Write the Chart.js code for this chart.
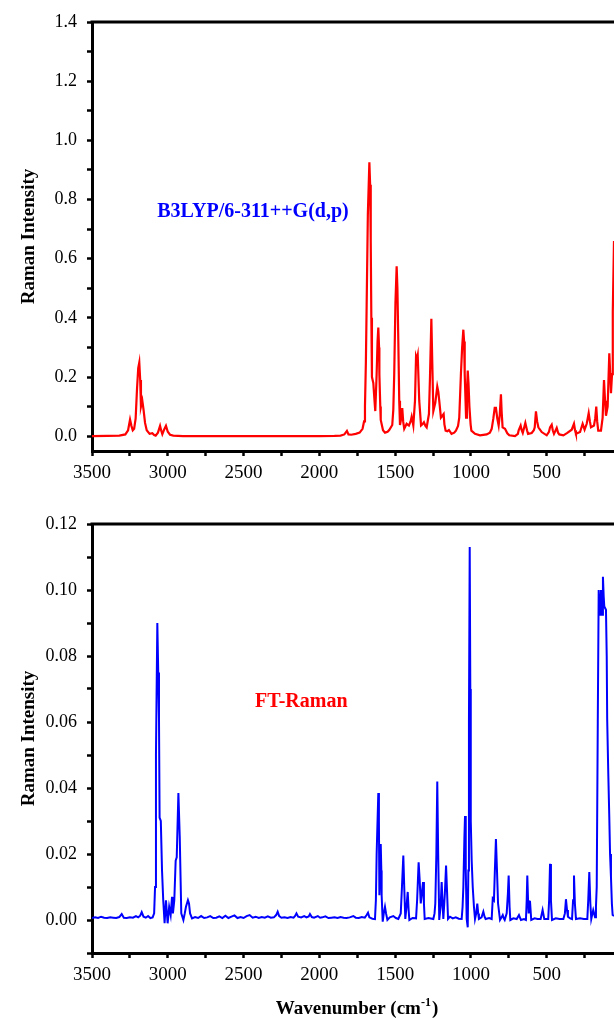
<!DOCTYPE html>
<html>
<head>
<meta charset="utf-8">
<script src="https://cdn.jsdelivr.net/npm/chart.js@4.4.1/dist/chart.umd.min.js"></script>
<style>
  body { margin: 0; background: #fff; }
  canvas { display: block; }
</style>
</head>
<body>
<canvas id="calcChart" width="614" height="500"></canvas>
<canvas id="expChart" width="614" height="518"></canvas>
<script>
// dados dos espectros

// grafico 1 - calculado B3LYP
const calcWn = [3500, 3400, 3320, 3280, 3262, 3249, 3240, 3231, 3222, 3212, 3203, 3195, 3188, 3182, 3177, 3168, 3160, 3150, 3139, 3120,
  3102, 3090, 3080, 3065, 3051, 3044, 3036, 3026, 3012, 3000, 2985, 2964, 2900, 2500, 2000, 1900, 1860, 1835, 1818, 1808,
  1790, 1760, 1734, 1715, 1705, 1699, 1693, 1688, 1680, 1670, 1665, 1661, 1657, 1653, 1644, 1636, 1631, 1622, 1616, 1611,
  1606, 1604, 1598, 1595, 1580, 1567, 1550, 1539, 1519, 1512, 1506, 1498, 1490, 1485, 1479, 1473, 1468, 1460, 1453, 1447,
  1440, 1424, 1409, 1398, 1391, 1385, 1380, 1369, 1362, 1356, 1351, 1341, 1329, 1320, 1310, 1300, 1292, 1277, 1270, 1261,
  1255, 1248, 1235, 1222, 1215, 1209, 1198, 1180, 1175, 1167, 1155, 1145, 1128, 1110, 1099, 1085, 1077, 1066, 1058, 1050,
  1045, 1041, 1032, 1026, 1021, 1016, 1010, 1002, 997, 973, 940, 896, 875, 863, 852, 843, 835, 826, 817, 810,
  802, 797, 791, 775, 760, 747, 709, 690, 685, 672, 665, 658, 641, 630, 623, 599, 585, 579, 571, 563,
  555, 533, 500, 485, 478, 467, 460, 452, 434, 425, 417, 390, 364, 335, 320, 313, 307, 280, 263, 250,
  236, 223, 215, 208, 188, 180, 173, 167, 160, 142, 131, 122, 115, 109, 98, 87, 80, 76, 69, 64, 56];
const calcInt = [0, 0.001, 0.002, 0.006, 0.02, 0.056, 0.035, 0.02, 0.025, 0.06, 0.16, 0.23, 0.249, 0.19, 0.10, 0.12, 0.09, 0.045, 0.02, 0.008,
  0.01, 0.004, 0.002, 0.012, 0.035, 0.02, 0.007, 0.02, 0.035, 0.015, 0.005, 0.002, 0.0005, 0, 0, 0.001, 0.002, 0.006, 0.018, 0.006,
  0.005, 0.008, 0.012, 0.025, 0.05, 0.10, 0.25, 0.44, 0.75, 0.926, 0.85, 0.66, 0.40, 0.20, 0.18, 0.12, 0.085, 0.21, 0.32, 0.367,
  0.30, 0.21, 0.10, 0.055, 0.02, 0.012, 0.015, 0.021, 0.038, 0.09, 0.21, 0.45, 0.574, 0.50, 0.32, 0.12, 0.038, 0.06, 0.095, 0.05,
  0.025, 0.042, 0.036, 0.05, 0.066, 0.05, 0.036, 0.12, 0.27, 0.26, 0.273, 0.12, 0.036, 0.04, 0.047, 0.035, 0.03, 0.075, 0.2, 0.397,
  0.25, 0.085, 0.113, 0.168, 0.15, 0.12, 0.063, 0.075, 0.04, 0.019, 0.017, 0.021, 0.008, 0.012, 0.019, 0.035, 0.063, 0.21, 0.30, 0.36,
  0.32, 0.21, 0.063, 0.15, 0.222, 0.18, 0.10, 0.04, 0.019, 0.008, 0.003, 0.006, 0.012, 0.025, 0.06, 0.096, 0.096, 0.06, 0.036, 0.07,
  0.142, 0.08, 0.03, 0.025, 0.01, 0.003, 0, 0.008, 0.02, 0.036, 0.02, 0.011, 0.045, 0.02, 0.008, 0.011, 0.02, 0.03, 0.084, 0.05,
  0.03, 0.014, 0.003, 0.015, 0.03, 0.039, 0.02, 0.008, 0.028, 0.012, 0.006, 0.003, 0.011, 0.022, 0.042, 0.02, 0.008, 0.014, 0.042, 0.022,
  0.042, 0.078, 0.05, 0.03, 0.036, 0.06, 0.10, 0.05, 0.019, 0.019, 0.063, 0.19, 0.12, 0.069, 0.10, 0.28, 0.2, 0.145, 0.21, 0.42, 0.66];

// grafico 2 - FT-Raman experimental
const expWn = [3500, 3480, 3460, 3440, 3420, 3400, 3380, 3360, 3340, 3320, 3304, 3290, 3270, 3250, 3230, 3210, 3195, 3182, 3172, 3160,
  3145, 3130, 3115, 3100, 3090, 3084, 3078, 3069, 3063, 3058, 3054, 3046, 3038, 3030, 3021, 3012, 3001, 2991, 2981, 2972,
  2966, 2957, 2948, 2941, 2930, 2921, 2911, 2897, 2888, 2880, 2867, 2860, 2853, 2840, 2820, 2800, 2780, 2760, 2740, 2720,
  2700, 2680, 2660, 2640, 2620, 2600, 2580, 2560, 2540, 2520, 2500, 2480, 2460, 2440, 2420, 2400, 2380, 2360, 2340, 2320,
  2300, 2285, 2275, 2265, 2250, 2230, 2210, 2190, 2170, 2160, 2151, 2140, 2120, 2100, 2085, 2070, 2062, 2050, 2035, 2010,
  1995, 1980, 1960, 1940, 1920, 1900, 1880, 1860, 1840, 1820, 1800, 1776, 1760, 1740, 1720, 1700, 1688, 1679, 1670, 1650,
  1633, 1627, 1622, 1611, 1607, 1604, 1599, 1595, 1591, 1589, 1582, 1575, 1567, 1560, 1551, 1535, 1512, 1495, 1479, 1463,
  1455, 1446, 1440, 1433, 1425, 1417, 1411, 1406, 1385, 1362, 1355, 1345, 1338, 1331, 1324, 1316, 1310, 1305, 1280, 1248,
  1240, 1235, 1228, 1222, 1216, 1209, 1200, 1193, 1187, 1182, 1172, 1164, 1157, 1151, 1138, 1120, 1100, 1080, 1061, 1055,
  1050, 1043, 1039, 1034, 1028, 1021, 1017, 1013, 1008, 1004, 1001, 995, 988, 980, 973, 965, 958, 952, 947, 930,
  918, 910, 903, 880, 863, 856, 848, 842, 835, 828, 821, 808, 798, 790, 783, 777, 764, 756, 751, 745,
  740, 720, 698, 683, 670, 650, 637, 632, 628, 623, 619, 614, 610, 602, 580, 560, 540, 527, 516, 490,
  484, 478, 472, 465, 440, 415, 390, 380, 373, 366, 360, 345, 333, 326, 320, 314, 307, 280, 255, 232,
  226, 219, 212, 206, 193, 181, 175, 170, 163, 157, 152, 148, 142, 135, 129, 124, 120, 109, 104, 101,
  94, 87, 82, 76, 70, 65, 56];
const expInt = [0.0006, 0.0008, 0.0006, 0.001, 0.0007, 0.0006, 0.0008, 0.0007, 0.0006, 0.0009, 0.0018, 0.0007, 0.0006, 0.0008, 0.0007, 0.0012, 0.0008, 0.0013, 0.0024, 0.001,
  0.0007, 0.0012, 0.0006, 0.0008, 0.002, 0.01, 0.05, 0.09, 0.075, 0.061, 0.031, 0.03, 0.015, 0.006, -0.001, 0.006, -0.001, 0.004, 0.0015, 0.007,
  0.002, 0.006, 0.018, 0.019, 0.0385, 0.025, 0.002, 0, 0.002, 0.004, 0.006, 0.005, 0.002, 0.0005, 0.0009, 0.0006, 0.0012, 0.0006, 0.0008, 0.0012,
  0.0006, 0.0007, 0.0011, 0.0006, 0.0013, 0.0006, 0.001, 0.0014, 0.0006, 0.0009, 0.0006, 0.0012, 0.0015, 0.0007, 0.001, 0.0006, 0.0009, 0.0007, 0.0011, 0.0007,
  0.0008, 0.0015, 0.0025, 0.0012, 0.0007, 0.0008, 0.0006, 0.0009, 0.0007, 0.0012, 0.002, 0.001, 0.0008, 0.0012, 0.0008, 0.0011, 0.0018, 0.0009, 0.0007, 0.0012,
  0.0007, 0.0008, 0.0011, 0.0006, 0.0007, 0.0008, 0.0006, 0.0009, 0.0007, 0.0006, 0.0008, 0.0012, 0.0007, 0.0006, 0.0009, 0.0007, 0.0015, 0.0022, 0.0008, 0.0004,
  0.0003, 0.006, 0.02, 0.0385, 0.03, 0.0075, 0.015, 0.023, 0.015, 0.0075, -0.0005, 0.002, 0.004, 0.002, 0, 0.0008, 0.0012, 0.0006, 0.0003, 0.002,
  0.01, 0.0195, 0.01, 0.0003, 0.004, 0.0085, 0.003, 0, 0.0006, 0.0005, 0.006, 0.0175, 0.012, 0.005, 0.008, 0.0115, 0.005, 0.0003, 0.0006, 0.0003,
  0.002, 0.005, 0.02, 0.042, 0.02, 0, 0.004, 0.0115, 0.005, 0.0003, 0.008, 0.0165, 0.008, 0.0003, 0.001, 0.0005, 0.0008, 0.0004, 0.0003, 0.004,
  0.010, 0.025, 0.0315, 0.015, 0.0003, -0.0022, 0.015, 0.06, 0.113, 0.07, 0.03, 0.018, 0.01, 0.004, 0.0003, 0.002, 0.005, 0.002, 0.0003, 0.0008,
  0.0025, 0.001, 0.0003, 0.0006, 0.0003, 0.0065, 0.006, 0.015, 0.0245, 0.015, 0.005, 0, 0.0008, 0.0015, 0.0005, 0, 0.002, 0.008, 0.0135, 0.004,
  0, 0.0005, 0.0003, 0.0015, 0, 0.0003, 0, 0.006, 0.0135, 0.006, 0.002, 0.0055, 0.0055, 0, 0.0005, 0.0003, 0.0003, 0.003, 0.0003, 0.0003,
  0.006, 0.017, 0.006, 0, 0.0005, 0.0003, 0.0003, 0.002, 0.0063, 0.003, 0.001, 0.0005, 0.0003, 0.006, 0.0135, 0.005, 0.0003, 0.0005, 0.0003, 0.0003,
  0.006, 0.0145, 0.005, 0.0003, 0.003, 0.0008, 0.004, 0.010, 0.06, 0.1, 0.096, 0.0925, 0.10, 0.0925, 0.104, 0.098, 0.095, 0.094, 0.08, 0.061,
  0.045, 0.031, 0.02, 0.013, 0.005, 0.0015, 0.0012];

// eixos
const xTicks = [3500, 3250, 3000, 2750, 2500, 2250, 2000, 1750, 1500, 1250, 1000, 750, 500, 250];
const xLabels = [3500, 3000, 2500, 2000, 1500, 1000, 500];
const yTicksCalc = [0, 0.1, 0.2, 0.3, 0.4, 0.5, 0.6, 0.7, 0.8, 0.9, 1.0, 1.1, 1.2, 1.3, 1.4];
const yLabelsCalc = ['0.0', '0.2', '0.4', '0.6', '0.8', '1.0', '1.2', '1.4'];
const yTicksExp = [-0.01, 0, 0.01, 0.02, 0.03, 0.04, 0.05, 0.06, 0.07, 0.08, 0.09, 0.10, 0.11, 0.12];
const yLabelsExp = ['0.00', '0.02', '0.04', '0.06', '0.08', '0.10', '0.12'];

const serif = 'Liberation Serif';

// desenha borda de cima, textos e titulo do eixo x
const extras = {
  id: 'extras',
  afterDraw(chart, args, opts) {
    const ctx = chart.ctx;
    const area = chart.chartArea;
    ctx.save();
    ctx.strokeStyle = '#000';
    ctx.lineWidth = 3;
    ctx.beginPath();
    ctx.moveTo(area.left - 1.5, area.top);
    ctx.lineTo(area.right, area.top);
    ctx.stroke();

    (opts.texts || []).forEach(t => {
      ctx.font = 'bold 20px "' + serif + '"';
      ctx.fillStyle = t.color;
      ctx.textAlign = 'left';
      ctx.textBaseline = 'middle';
      ctx.fillText(t.text, chart.scales.x.getPixelForValue(t.x), chart.scales.y.getPixelForValue(t.y));
    });

    if (opts.xTitle) {
      const big = 'bold 19px "' + serif + '"';
      const small = 'bold 12px "' + serif + '"';
      const a = 'Wavenumber (cm', sup = '-1', b = ')';
      ctx.font = big; const wa = ctx.measureText(a).width, wb = ctx.measureText(b).width;
      ctx.font = small; const ws = ctx.measureText(sup).width;
      let x = opts.xTitle.cx - (wa + ws + wb + 1) / 2;
      const y = opts.xTitle.y;
      ctx.fillStyle = '#000';
      ctx.textAlign = 'left';
      ctx.textBaseline = 'alphabetic';
      ctx.font = big; ctx.fillText(a, x, y); x += wa;
      ctx.font = small; ctx.fillText(sup, x, y - 8); x += ws + 1;
      ctx.font = big; ctx.fillText(b, x, y);
    }
    ctx.restore();
  }
};

function xScale(height) {
  return {
    type: 'linear', min: 56, max: 3500, reverse: true,
    afterBuildTicks: s => { s.ticks = xTicks.map(v => ({ value: v })); },
    afterFit: s => { s.height = height; },
    grid: { drawOnChartArea: false, tickLength: 5, tickWidth: 2.5, tickColor: '#000' },
    border: { color: '#000', width: 3 },
    ticks: {
      autoSkip: false, maxRotation: 0, padding: 6, color: '#000',
      font: { family: serif, size: 19 },
      callback: v => xLabels.includes(v) ? String(v) : ''
    }
  };
}

function yScale(min, max, ticks, labels, digits) {
  return {
    type: 'linear', min: min, max: max,
    afterBuildTicks: s => { s.ticks = ticks.map(v => ({ value: v })); },
    afterFit: s => { s.width = 92; },
    grid: { drawOnChartArea: false, tickLength: 5, tickWidth: 2.5, tickColor: '#000' },
    border: { color: '#000', width: 3 },
    title: {
      display: true, text: 'Raman Intensity', color: '#000',
      font: { family: serif, size: 19, weight: 'bold' }, padding: { top: 18, bottom: 0 }
    },
    ticks: {
      autoSkip: false, padding: 10, color: '#000',
      font: { family: serif, size: 18 },
      callback: v => { const s = v.toFixed(digits); return labels.includes(s) ? s : ''; }
    }
  };
}

const config = {      // grafico 1
  type: 'line',
  data: {
    datasets: [{
      label: 'B3LYP/6-311++G(d,p)',
      data: calcWn.map((w, i) => ({ x: w, y: calcInt[i] })),
      borderColor: '#ff0000',
      borderWidth: 2.2,
      pointRadius: 0,
      tension: 0
    }]
  },
  options: {
    responsive: false,
    animation: false,
    layout: { padding: { top: 22, left: 0, right: 0, bottom: 0 } },
    plugins: {
      legend: { display: false },
      tooltip: { enabled: false },
      extras: { texts: [{ text: 'B3LYP/6-311++G(d,p)', x: 3070, y: 0.76, color: '#0000ff' }] }
    },
    scales: { x: xScale(49), y: yScale(-0.05, 1.4, yTicksCalc, yLabelsCalc, 1) }
  },
  plugins: [extras]
};

const config2 = {     // grafico 2
  type: 'line',
  data: {
    datasets: [{
      label: 'FT-Raman',
      data: expWn.map((w, i) => ({ x: w, y: expInt[i] })),
      borderColor: '#0000ff',
      borderWidth: 2,
      pointRadius: 0,
      tension: 0
    }]
  },
  options: {
    responsive: false,
    animation: false,
    layout: { padding: { top: 24, left: 0, right: 0, bottom: 0 } },
    plugins: {
      legend: { display: false },
      tooltip: { enabled: false },
      extras: {
        texts: [{ text: 'FT-Raman', x: 2425, y: 0.066, color: '#ff0000' }],
        xTitle: { cx: 357, y: 514 }
      }
    },
    scales: { x: xScale(65), y: yScale(-0.01, 0.12, yTicksExp, yLabelsExp, 2) }
  },
  plugins: [extras]
};

const myChart = new Chart(document.getElementById('calcChart'), config);
const myChart2 = new Chart(document.getElementById('expChart'), config2);
</script>
</body>
</html>
